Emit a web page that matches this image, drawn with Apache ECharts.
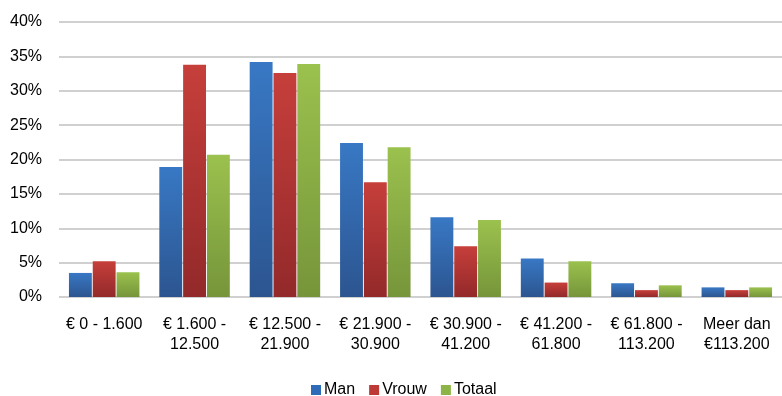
<!DOCTYPE html>
<html>
<head>
<meta charset="utf-8">
<script src="https://cdn.jsdelivr.net/npm/echarts@6/dist/echarts.min.js"></script>
<style>
html,body{margin:0;padding:0;background:#fff;}
#c{width:782px;height:396px;}
</style>
</head>
<body>
<div id="c"></div>
<script>
var categories = ['€ 0 - 1.600', '€ 1.600 -\n12.500', '€ 12.500 -\n21.900', '€ 21.900 -\n30.900', '€ 30.900 -\n41.200', '€ 41.200 -\n61.800', '€ 61.800 -\n113.200', 'Meer dan\n€113.200'];
var man = [3.5, 18.9, 34.2, 22.4, 11.6, 5.6, 2.0, 1.4];
var vrouw = [5.2, 33.8, 32.6, 16.7, 7.4, 2.1, 1.0, 1.0];
var totaal = [3.6, 20.7, 33.9, 21.8, 11.2, 5.2, 1.7, 1.4];
var yTicks = {min: 0, max: 40, interval: 5};

function grad(top, bottom) {
  return new echarts.graphic.LinearGradient(0, 0, 0, 1, [
    {offset: 0, color: top}, {offset: 1, color: bottom}
  ]);
}

var chart = echarts.init(document.getElementById('c'), null, {renderer: 'canvas'});
chart.setOption({
  animation: false,
  textStyle: {fontFamily: 'Liberation Sans, Arial, sans-serif'},
  grid: {left: 59, right: -10, top: 22, bottom: 99, containLabel: false},
  legend: {
    top: 382,
    left: 311,
    padding: 0,
    itemWidth: 10,
    itemHeight: 10,
    itemGap: 14,
    icon: 'rect',
    textStyle: {fontSize: 16, color: '#000', padding: [0, 0, 0, -2]},
    data: [
      {name: 'Man', itemStyle: {color: '#2f6cb8'}},
      {name: 'Vrouw', itemStyle: {color: '#bd3a36'}},
      {name: 'Totaal', itemStyle: {color: '#8cb446'}}
    ]
  },
  xAxis: {
    type: 'category',
    data: categories,
    axisLine: {show: false},
    axisTick: {show: false},
    axisLabel: {
      interval: 0, margin: 18, fontSize: 16, color: '#000', lineHeight: 20
    }
  },
  yAxis: {
    type: 'value',
    min: yTicks.min, max: yTicks.max, interval: yTicks.interval,
    axisLine: {show: false},
    axisTick: {show: false},
    axisLabel: {formatter: '{value}%', fontSize: 16, color: '#000', margin: 17},
    splitLine: {lineStyle: {color: '#c0c0c0', width: 1.5}}
  },
  series: [
    {name: 'Man', type: 'bar', data: man, barGap: '4%', barCategoryGap: '22%',
     itemStyle: {color: grad('#3878c4', '#2c5590')}},
    {name: 'Vrouw', type: 'bar', data: vrouw,
     itemStyle: {color: grad('#c63f3b', '#93292a')}},
    {name: 'Totaal', type: 'bar', data: totaal,
     itemStyle: {color: grad('#9bc14e', '#76953a')}}
  ]
});
</script>
</body>
</html>
